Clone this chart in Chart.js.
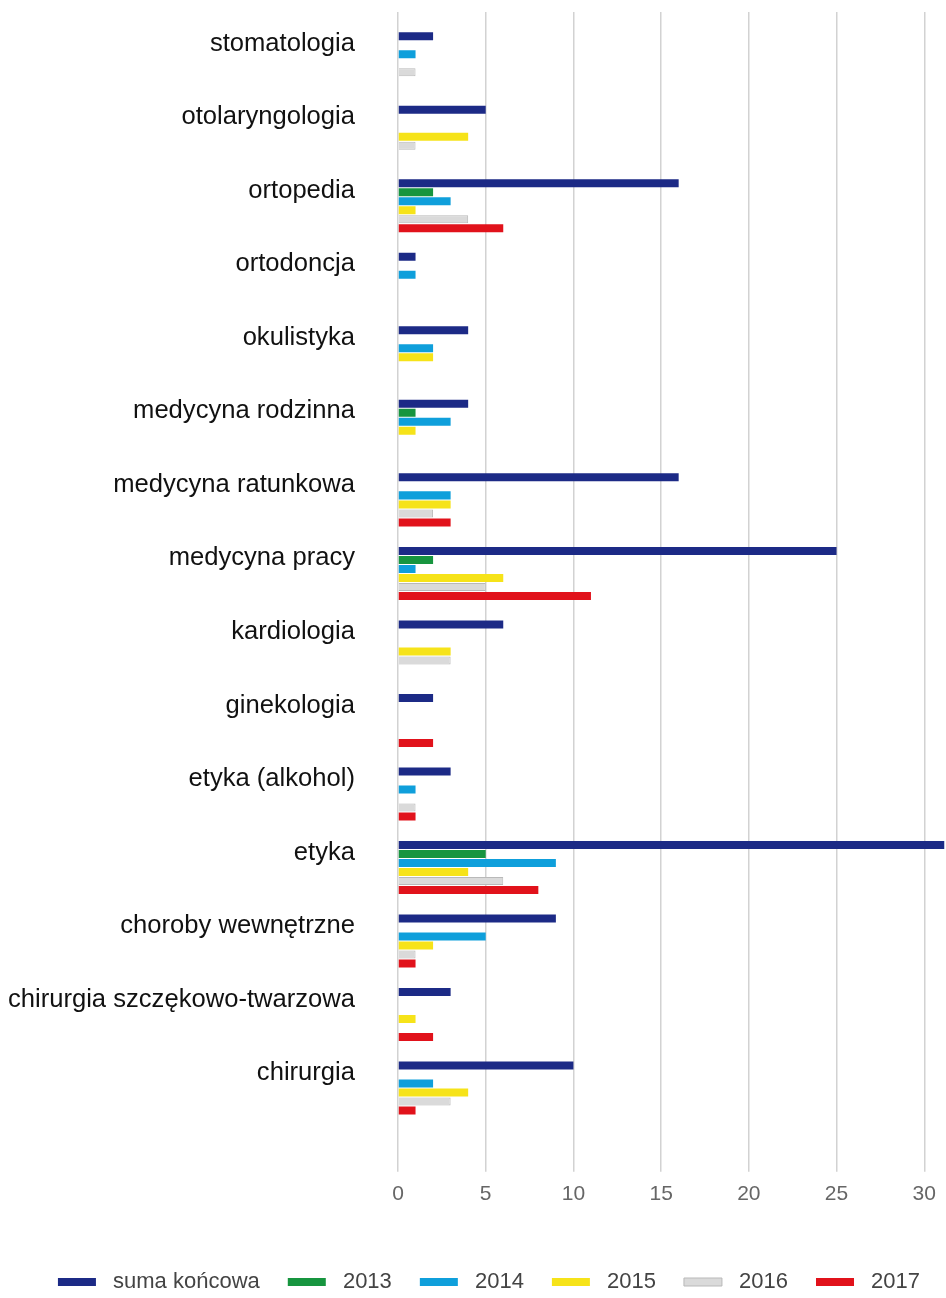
<!DOCTYPE html>
<html>
<head>
<meta charset="utf-8">
<script src="https://cdn.jsdelivr.net/npm/chart.js@4/dist/chart.umd.min.js"></script>
<style>
  html, body { margin: 0; padding: 0; background: #fff; }
  #wrap { width: 946px; height: 1298px; position: relative; }
</style>
</head>
<body>
<div id="wrap"><canvas id="myBarChart"></canvas></div>
<script>
const categories = [
  "stomatologia", "otolaryngologia", "ortopedia", "ortodoncja", "okulistyka",
  "medycyna rodzinna", "medycyna ratunkowa", "medycyna pracy", "kardiologia",
  "ginekologia", "etyka (alkohol)", "etyka", "choroby wewnętrzne",
  "chirurgia szczękowo-twarzowa", "chirurgia"
];

const sumaKoncowa = [2, 5, 16, 1, 4, 4, 16, 25, 6, 2, 3, 32, 9, 3, 10];
const y2013 = [0, 0, 2, 0, 0, 1, 0, 2, 0, 0, 0, 5, 0, 0, 0];
const y2014 = [1, 0, 3, 1, 2, 3, 3, 1, 0, 0, 1, 9, 5, 0, 2];
const y2015 = [0, 4, 1, 0, 2, 1, 3, 6, 3, 0, 0, 4, 2, 1, 4];
const y2016 = [1, 1, 4, 0, 0, 0, 2, 5, 3, 0, 1, 6, 1, 0, 3];
const y2017 = [0, 0, 6, 0, 0, 0, 3, 11, 0, 2, 1, 8, 1, 2, 1];

const xTicks = [0, 5, 10, 15, 20, 25, 30];

const ctx1 = document.getElementById("myBarChart");

function series(label, data, color, border) {
  return {
    label: label,
    data: data,
    backgroundColor: color,
    borderColor: border || color,
    borderWidth: border ? 1 : 0,
    categoryPercentage: 0.735,
    barPercentage: 0.89,
  };
}

// x axis ticks every 5, the plot is cut at the right edge like the original
const xMax = 31.14;
const useTicks = (scale) => {
  scale.ticks = xTicks.map((v) => ({ value: v }));
};

// the original legend sits a bit right of the middle (chart was cropped)
const shiftLegend = {
  id: "shiftLegend",
  afterLayout(chart) {
    chart.legend.left += 16;
    chart.legend.right += 16;
  },
};

new Chart(ctx1, {
  type: "bar",
  data: {
    labels: categories,
    datasets: [
      series("suma końcowa", sumaKoncowa, "#1c2a86"),
      series("2013", y2013, "#17953f"),
      series("2014", y2014, "#0f9fdb"),
      series("2015", y2015, "#f6e319"),
      series("2016", y2016, "#dadada", "#b9b9b9"),
      series("2017", y2017, "#e1121b"),
    ],
  },
  plugins: [shiftLegend],
  options: {
    indexAxis: "y",
    responsive: true,
    maintainAspectRatio: false,
    animation: false,
    layout: { padding: { top: 12, right: 0, left: 0, bottom: 0 } },
    scales: {
      x: {
        min: 0,
        max: xMax,
        afterBuildTicks: useTicks,
        grid: { color: "#d2d2d2", lineWidth: 1.5, tickLength: 47 },
        border: { display: false },
        ticks: {
          padding: 10,
          color: "#666",
          font: { family: "Liberation Sans", size: 21 },
        },
        afterFit: (scale) => {
          scale.height += 26;
        },
      },
      x2: {
        axis: "x",
        position: "top",
        min: 0,
        max: xMax,
        afterBuildTicks: useTicks,
        grid: { color: "#d2d2d2", lineWidth: 1.5, tickLength: 10, drawOnChartArea: false },
        border: { display: false },
        ticks: { display: false },
        afterFit: (scale) => {
          scale.height = 10;
        },
      },
      y: {
        grid: { display: false, drawTicks: false },
        border: { display: false },
        ticks: {
          padding: 43,
          labelOffset: -15,
          color: "#111",
          font: { family: "Liberation Sans", size: 25.6 },
        },
        afterFit: (scale) => {
          scale.width = 398;
          scale.paddingTop = 0;
          scale.paddingBottom = 0;
        },
      },
    },
    plugins: {
      tooltip: { enabled: false },
      legend: {
        position: "bottom",
        maxHeight: 55,
        labels: {
          boxWidth: 38,
          boxHeight: 8,
          padding: 28,
          color: "#444",
          font: { family: "Liberation Sans", size: 22 },
          generateLabels: (chart) =>
            Chart.defaults.plugins.legend.labels.generateLabels(chart).map((l) => {
              l.text = " " + l.text;
              return l;
            }),
        },
      },
    },
  },
});
</script>
</body>
</html>
